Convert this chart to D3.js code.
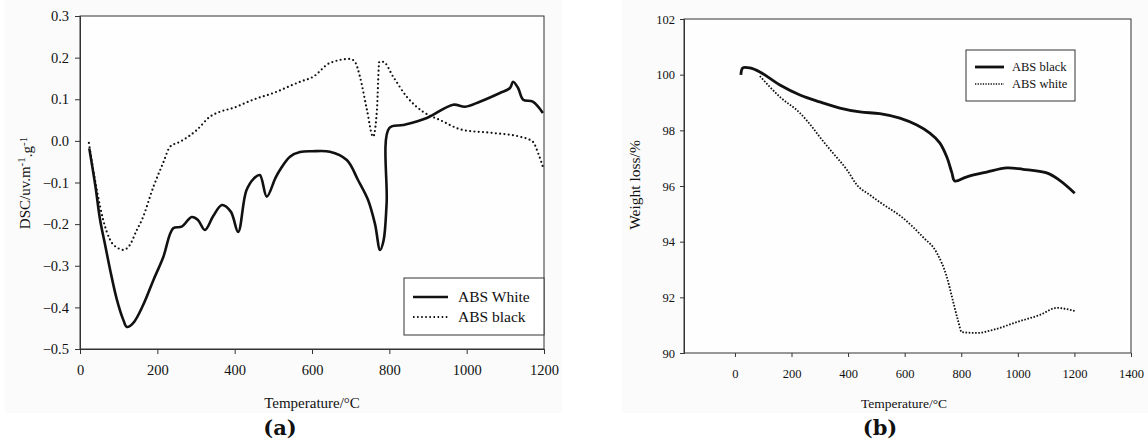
<!DOCTYPE html>
<html>
<head>
<meta charset="utf-8">
<script src="https://cdn.jsdelivr.net/npm/d3@7"></script>
<style>
  body { margin: 0; background: #fff; }
  text { font-family: 'Liberation Serif', 'Times New Roman', serif; fill: #111; }
  .axis path, .axis line { stroke: #333; }
</style>
</head>
<body>
<div id="chart"></div>
<script>
// (a) DSC curves
const dscWhiteT = [24, 40, 52, 65, 78, 95, 112, 121, 138, 163, 190, 215, 241, 263, 289, 305, 323, 345, 367, 390, 409, 430, 450, 465, 483, 505, 517, 543, 569, 600, 646, 690, 719, 745, 763, 776, 785, 793, 800, 836, 897, 965, 996, 1034, 1086, 1112, 1120, 1133, 1146, 1171, 1197]
const dscWhiteV = [-0.018, -0.11, -0.19, -0.25, -0.31, -0.38, -0.43, -0.447, -0.437, -0.395, -0.334, -0.28, -0.21, -0.206, -0.183, -0.19, -0.214, -0.18, -0.154, -0.17, -0.219, -0.12, -0.09, -0.082, -0.134, -0.09, -0.07, -0.038, -0.027, -0.025, -0.026, -0.046, -0.094, -0.142, -0.2, -0.262, -0.24, -0.15, 0.031, 0.038, 0.055, 0.087, 0.082, 0.094, 0.115, 0.127, 0.142, 0.127, 0.099, 0.094, 0.067]
const dscBlackT = [23, 40, 52, 60, 78, 99, 112, 129, 147, 160, 190, 215, 233, 259, 302, 336, 362, 396, 448, 500, 569, 603, 646, 698, 711, 724, 742, 758, 768, 774, 784, 810, 845, 887, 931, 991, 1068, 1138, 1171, 1185, 1197]
const dscBlackV = [-0.005, -0.1, -0.158, -0.19, -0.238, -0.258, -0.262, -0.25, -0.214, -0.19, -0.11, -0.053, -0.014, -0.002, 0.026, 0.058, 0.07, 0.079, 0.099, 0.115, 0.142, 0.154, 0.187, 0.197, 0.19, 0.154, 0.075, 0.01, 0.075, 0.19, 0.19, 0.154, 0.106, 0.07, 0.05, 0.026, 0.019, 0.01, -0.002, -0.03, -0.062]
const dscYTicks = [0.3, 0.2, 0.1, 0.0, -0.1, -0.2, -0.3, -0.4, -0.5]
const dscXTicks = [0, 200, 400, 600, 800, 1000, 1200]

// (b) TGA curves
const tgaBlackT = [21, 28, 53, 88, 159, 230, 300, 371, 442, 512, 583, 643, 689, 724, 749, 767, 777, 820, 890, 961, 1018, 1102, 1148, 1201]
const tgaBlackV = [99.99, 100.24, 100.24, 100.1, 99.63, 99.27, 99.02, 98.8, 98.66, 98.6, 98.44, 98.19, 97.9, 97.55, 97.04, 96.47, 96.18, 96.33, 96.5, 96.65, 96.6, 96.47, 96.2, 95.74]
const tgaWhiteT = [88, 159, 230, 276, 300, 346, 396, 431, 477, 512, 594, 664, 714, 749, 770, 788, 802, 855, 912, 996, 1078, 1138, 1201]
const tgaWhiteV = [99.95, 99.2, 98.62, 98.08, 97.76, 97.19, 96.58, 96.04, 95.68, 95.42, 94.85, 94.17, 93.59, 92.73, 91.9, 91.19, 90.75, 90.72, 90.83, 91.11, 91.37, 91.62, 91.51]
const tgaYTicks = [90, 92, 94, 96, 98, 100, 102]
const tgaXTicks = [0, 200, 400, 600, 800, 1000, 1200, 1400]

const W = 1148, H = 448
const serif = "'Liberation Serif', 'Times New Roman', serif"

const svg = d3.select('#chart').append('svg')
  .attr('width', W).attr('height', H)

// faint scan background
svg.append('rect').attr('x', 5).attr('y', 0).attr('width', 557).attr('height', 413).attr('fill', '#fbfbfb')
svg.append('rect').attr('x', 622).attr('y', 0).attr('width', 526).attr('height', 413).attr('fill', '#fbfbfb')

const zip = (a, b) => a.map((t, i) => [t, b[i]])

function styleTicks(g, size) {
  g.selectAll('.tick text')
    .style('font-family', serif)
    .style('font-size', size + 'px')
    .style('fill', '#111')
}

// ---------- panel (a)
const xa = d3.scaleLinear().domain([0, 1200]).range([80, 544])
const ya = d3.scaleLinear().domain([-0.5, 0.3]).range([349, 16])

const ga = svg.append('g')

ga.append('rect').attr('x', 80).attr('y', 16).attr('width', 464).attr('height', 333)
  .attr('fill', '#fefefe').attr('stroke', '#333').attr('stroke-width', 1)

ga.append('g').attr('class', 'axis')
  .attr('transform', 'translate(80,0)')
  .call(d3.axisLeft(ya).tickValues(dscYTicks).tickFormat(d3.format('.1f')).tickSize(5).tickPadding(6))
  .call(g => styleTicks(g, 14.5))

ga.append('g').attr('class', 'axis')
  .attr('transform', 'translate(0,349)')
  .call(d3.axisBottom(xa).tickValues(dscXTicks).tickFormat(d3.format('d')).tickSize(5).tickPadding(11))
  .call(g => styleTicks(g, 14.5))

const lineA = d3.line().x(d => xa(d[0])).y(d => ya(d[1])).curve(d3.curveMonotoneX)

ga.append('path').datum(zip(dscBlackT, dscBlackV))
  .attr('d', lineA).attr('fill', 'none').attr('stroke', '#111')
  .attr('stroke-width', 2.2).attr('stroke-linecap', 'round').attr('stroke-dasharray', '0,4.3')

ga.append('path').datum(zip(dscWhiteT, dscWhiteV))
  .attr('d', d3.line().x(d => xa(d[0])).y(d => ya(d[1])).curve(d3.curveCatmullRom))
  .attr('fill', 'none').attr('stroke', '#111').attr('stroke-width', 2.6)

// legend (a)
ga.append('rect').attr('x', 404).attr('y', 278).attr('width', 140).attr('height', 57)
  .attr('fill', '#fff').attr('stroke', '#333').attr('stroke-width', 1)
ga.append('line').attr('x1', 413).attr('x2', 448).attr('y1', 297).attr('y2', 297)
  .attr('stroke', '#111').attr('stroke-width', 2.6)
ga.append('line').attr('x1', 413).attr('x2', 448).attr('y1', 317).attr('y2', 317)
  .attr('stroke', '#111').attr('stroke-width', 1.8).attr('stroke-dasharray', '1.5,2.6')
ga.append('text').text('ABS White').attr('x', 458).attr('y', 297).attr('dy', '0.35em').style('font-size', '15.5px')
ga.append('text').text('ABS black').attr('x', 458).attr('y', 317).attr('dy', '0.35em').style('font-size', '15.5px')

ga.append('text').text('Temperature/°C').attr('x', 312).attr('y', 403).attr('dy', '0.35em')
  .attr('text-anchor', 'middle').style('font-size', '15px')

const dscLabel = ga.append('text').attr('transform', 'translate(25,183) rotate(-90)')
  .attr('text-anchor', 'middle').style('font-size', '15px').attr('dy', '0.35em')
dscLabel.append('tspan').text('DSC/uv.m')
dscLabel.append('tspan').text('-1').attr('dy', '-0.5em').style('font-size', '11px')
dscLabel.append('tspan').text('.g').attr('dy', '0.5em')
dscLabel.append('tspan').text('-1').attr('dy', '-0.5em').style('font-size', '11px')

ga.append('text').text('(a)').attr('x', 280).attr('y', 428).attr('dy', '0.35em')
  .attr('text-anchor', 'middle').style('font-size', '21px').style('font-weight', 'bold')
  .style('font-family', "'DejaVu Serif', serif")

// ---------- panel (b)
const xb = d3.scaleLinear().domain([-180, 1400]).range([684, 1131])
const yb = d3.scaleLinear().domain([90, 102]).range([353, 19])

const gb = svg.append('g')

gb.append('rect').attr('x', 684).attr('y', 19).attr('width', 447).attr('height', 334)
  .attr('fill', '#fefefe').attr('stroke', '#333').attr('stroke-width', 1)

gb.append('g').attr('class', 'axis')
  .attr('transform', 'translate(684,0)')
  .call(d3.axisLeft(yb).tickValues(tgaYTicks).tickSize(4).tickPadding(5))
  .call(g => styleTicks(g, 12.5))

gb.append('g').attr('class', 'axis')
  .attr('transform', 'translate(0,353)')
  .call(d3.axisBottom(xb).tickValues(tgaXTicks).tickFormat(d3.format('d')).tickSize(4).tickPadding(12))
  .call(g => g.select('.domain').remove())
  .call(g => styleTicks(g, 12.5))

const lineB = d3.line().x(d => xb(d[0])).y(d => yb(d[1])).curve(d3.curveMonotoneX)

gb.append('path').datum(zip(tgaWhiteT, tgaWhiteV))
  .attr('d', lineB).attr('fill', 'none').attr('stroke', '#111')
  .attr('stroke-width', 1.8).attr('stroke-dasharray', '1.6,1.6')

gb.append('path').datum(zip(tgaBlackT, tgaBlackV))
  .attr('d', d3.line().x(d => xb(d[0])).y(d => yb(d[1])).curve(d3.curveCatmullRom))
  .attr('fill', 'none').attr('stroke', '#111').attr('stroke-width', 2.8)

// legend (b)
gb.append('rect').attr('x', 966).attr('y', 50).attr('width', 109).attr('height', 51)
  .attr('fill', '#fff').attr('stroke', '#333').attr('stroke-width', 1)
gb.append('line').attr('x1', 975).attr('x2', 1004).attr('y1', 67).attr('y2', 67)
  .attr('stroke', '#111').attr('stroke-width', 2.8)
gb.append('line').attr('x1', 975).attr('x2', 1004).attr('y1', 84).attr('y2', 84)
  .attr('stroke', '#111').attr('stroke-width', 1.6).attr('stroke-dasharray', '1.3,1.3')
gb.append('text').text('ABS black').attr('x', 1012).attr('y', 67).attr('dy', '0.35em').style('font-size', '12.5px')
gb.append('text').text('ABS white').attr('x', 1012).attr('y', 84).attr('dy', '0.35em').style('font-size', '12.5px')

gb.append('text').text('Temperature/°C').attr('x', 904).attr('y', 403).attr('dy', '0.35em')
  .attr('text-anchor', 'middle').style('font-size', '13.5px')

gb.append('text').text('Weight loss/%').attr('transform', 'translate(635,185) rotate(-90)')
  .attr('text-anchor', 'middle').attr('dy', '0.35em').style('font-size', '15.5px')

gb.append('text').text('(b)').attr('x', 880).attr('y', 428).attr('dy', '0.35em')
  .attr('text-anchor', 'middle').style('font-size', '21px').style('font-weight', 'bold')
  .style('font-family', "'DejaVu Serif', serif")
</script>
</body>
</html>
